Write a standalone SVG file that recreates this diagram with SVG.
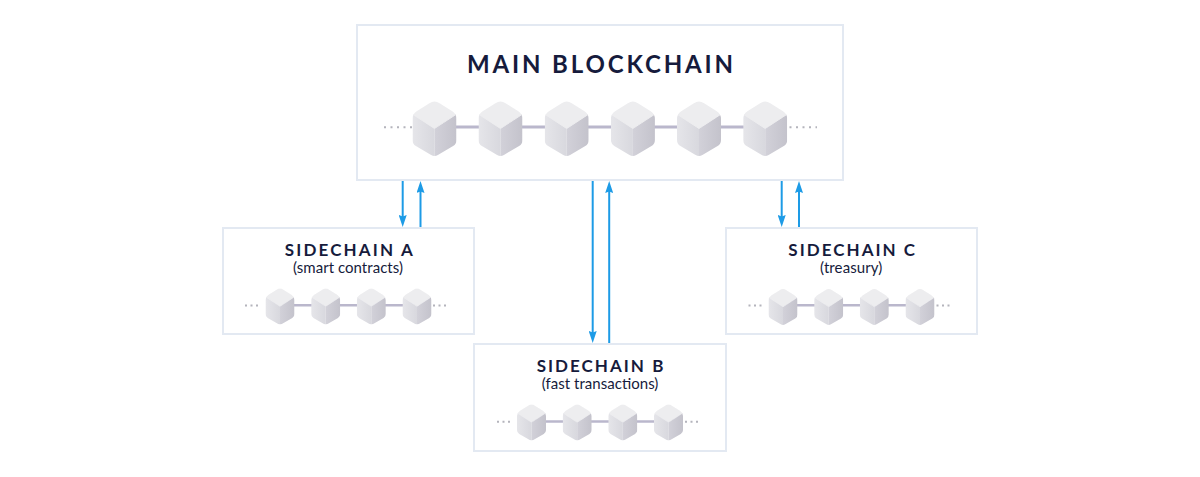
<svg xmlns="http://www.w3.org/2000/svg" xmlns:xlink="http://www.w3.org/1999/xlink" width="1200" height="477" viewBox="0 0 1200 477">
<style>
.box{fill:#ffffff;stroke:#e3e9f2;stroke-width:2}
.title{font-family:Lato,"Open Sans","Liberation Sans",sans-serif;font-weight:700;fill:#161b3c;text-anchor:middle}
.sub{font-family:Lato,"Open Sans","Liberation Sans",sans-serif;font-weight:400;fill:#161b3c;text-anchor:middle;font-size:15px}
.chain{stroke:#bab7cc;fill:none}
.dots{stroke:#b4b4bc;stroke-width:2;fill:none}
.arrow{stroke:#1d9be6;stroke-width:2;fill:none;marker-end:url(#ah)}
</style>
<defs>
<linearGradient id="gl" x1="0" y1="0" x2="1" y2="0">
<stop offset="0" stop-color="#e6e6ea"/><stop offset="1" stop-color="#d8d8de"/>
</linearGradient>
<linearGradient id="gr" x1="0" y1="0" x2="1" y2="0">
<stop offset="0" stop-color="#d2d1d9"/><stop offset="1" stop-color="#c3c2cb"/>
</linearGradient>
<clipPath id="cubeclip" clipPathUnits="userSpaceOnUse">
<path d="M-5.06,3.22 Q0,0 5.06,3.22 L17.8,11.3 Q22,14 22,19 L22,40 Q22,44 18.6,46.1 L3.4,54.9 Q0,57 -3.4,54.9 L-18.6,46.1 Q-22,44 -22,40 L-22,19 Q-22,14 -17.8,11.3 Z"/>
</clipPath>
<g id="cube">
<g clip-path="url(#cubeclip)">
<polygon points="-23,13 0,27.5 0,58 -23,45" fill="url(#gl)"/>
<polygon points="0,27.5 23,13 23,45 0,58" fill="url(#gr)"/>
<path d="M0,-1 L23,13.5 Q0,28.5 0,28.5 L-23,13.5 Z" fill="#ededef" stroke="#ededef" stroke-width="1" stroke-linejoin="round"/>
</g>
</g>
<marker id="ah" viewBox="0 0 12 8" refX="6" refY="4" markerWidth="12" markerHeight="8" markerUnits="userSpaceOnUse" orient="auto">
<path d="M0,0 L12,4 L0,8 L1.5,4 Z" fill="#1d9be6"/>
</marker>
</defs>
<rect width="1200" height="477" fill="#ffffff"/>

<g id="connectors">
<line class="arrow" x1="402.7" y1="181" x2="402.7" y2="221"/>
<line class="arrow" x1="420.5" y1="228" x2="420.5" y2="187"/>
<line class="arrow" x1="592.7" y1="181" x2="592.7" y2="337"/>
<line class="arrow" x1="609.2" y1="344" x2="609.2" y2="187"/>
<line class="arrow" x1="781.7" y1="181" x2="781.7" y2="221"/>
<line class="arrow" x1="799" y1="228" x2="799" y2="187"/>
</g>

<g id="main">
<rect class="box" x="357" y="25" width="486" height="155"/>
<text class="title" x="600" y="72.5" font-size="24" textLength="266" lengthAdjust="spacing">MAIN BLOCKCHAIN</text>
<line class="dots" x1="384" y1="127.3" x2="412" y2="127.3" stroke-dasharray="2 4.5"/>
<line class="dots" x1="789.5" y1="127.3" x2="817" y2="127.3" stroke-dasharray="2 4.5"/>
<line class="chain" stroke-width="3" x1="434" y1="127" x2="766" y2="127"/>
<use xlink:href="#cube" transform="translate(434.5,100)"/>
<use xlink:href="#cube" transform="translate(500.5,100)"/>
<use xlink:href="#cube" transform="translate(566.7,100)"/>
<use xlink:href="#cube" transform="translate(632.9,100)"/>
<use xlink:href="#cube" transform="translate(699,100)"/>
<use xlink:href="#cube" transform="translate(765.2,100)"/>
</g>

<g id="sidechain-a">
<rect class="box" x="223" y="228" width="251" height="106"/>
<text class="title" x="348.8" y="256" font-size="17" textLength="128" lengthAdjust="spacing">SIDECHAIN A</text>
<text class="sub" x="348" y="273" textLength="110" lengthAdjust="spacing">(smart contracts)</text>
<line class="dots" x1="245" y1="305.5" x2="260" y2="305.5" stroke-dasharray="2 3.5"/>
<line class="dots" x1="433" y1="305.5" x2="448" y2="305.5" stroke-dasharray="2 3.5"/>
<line class="chain" stroke-width="2.5" x1="280" y1="305.2" x2="417" y2="305.2"/>
<use xlink:href="#cube" transform="translate(280,287.5) scale(0.66)"/>
<use xlink:href="#cube" transform="translate(325.7,287.5) scale(0.66)"/>
<use xlink:href="#cube" transform="translate(371.3,287.5) scale(0.66)"/>
<use xlink:href="#cube" transform="translate(417,287.5) scale(0.66)"/>
</g>

<g id="sidechain-b">
<rect class="box" x="474" y="344" width="252" height="107"/>
<text class="title" x="600" y="371.5" font-size="17" textLength="126.7" lengthAdjust="spacing">SIDECHAIN B</text>
<text class="sub" x="600" y="388.5" textLength="116.7" lengthAdjust="spacing">(fast transactions)</text>
<line class="dots" x1="497" y1="421.7" x2="512" y2="421.7" stroke-dasharray="2 3.5"/>
<line class="dots" x1="685" y1="421.7" x2="700" y2="421.7" stroke-dasharray="2 3.5"/>
<line class="chain" stroke-width="2.5" x1="531.5" y1="421.5" x2="668.5" y2="421.5"/>
<use xlink:href="#cube" transform="translate(531.5,403.5) scale(0.66)"/>
<use xlink:href="#cube" transform="translate(577.2,403.5) scale(0.66)"/>
<use xlink:href="#cube" transform="translate(622.8,403.5) scale(0.66)"/>
<use xlink:href="#cube" transform="translate(668.5,403.5) scale(0.66)"/>
</g>

<g id="sidechain-c">
<rect class="box" x="726" y="228" width="251" height="106"/>
<text class="title" x="851.7" y="256" font-size="17" textLength="126.7" lengthAdjust="spacing">SIDECHAIN C</text>
<text class="sub" x="851.2" y="273" textLength="62.3" lengthAdjust="spacing">(treasury)</text>
<line class="dots" x1="748.5" y1="305.5" x2="763.5" y2="305.5" stroke-dasharray="2 3.5"/>
<line class="dots" x1="936.5" y1="305.5" x2="951.5" y2="305.5" stroke-dasharray="2 3.5"/>
<line class="chain" stroke-width="2.5" x1="783" y1="305.2" x2="920" y2="305.2"/>
<use xlink:href="#cube" transform="translate(783,288) scale(0.66)"/>
<use xlink:href="#cube" transform="translate(828.7,288) scale(0.66)"/>
<use xlink:href="#cube" transform="translate(874.3,288) scale(0.66)"/>
<use xlink:href="#cube" transform="translate(920,288) scale(0.66)"/>
</g>
</svg>
